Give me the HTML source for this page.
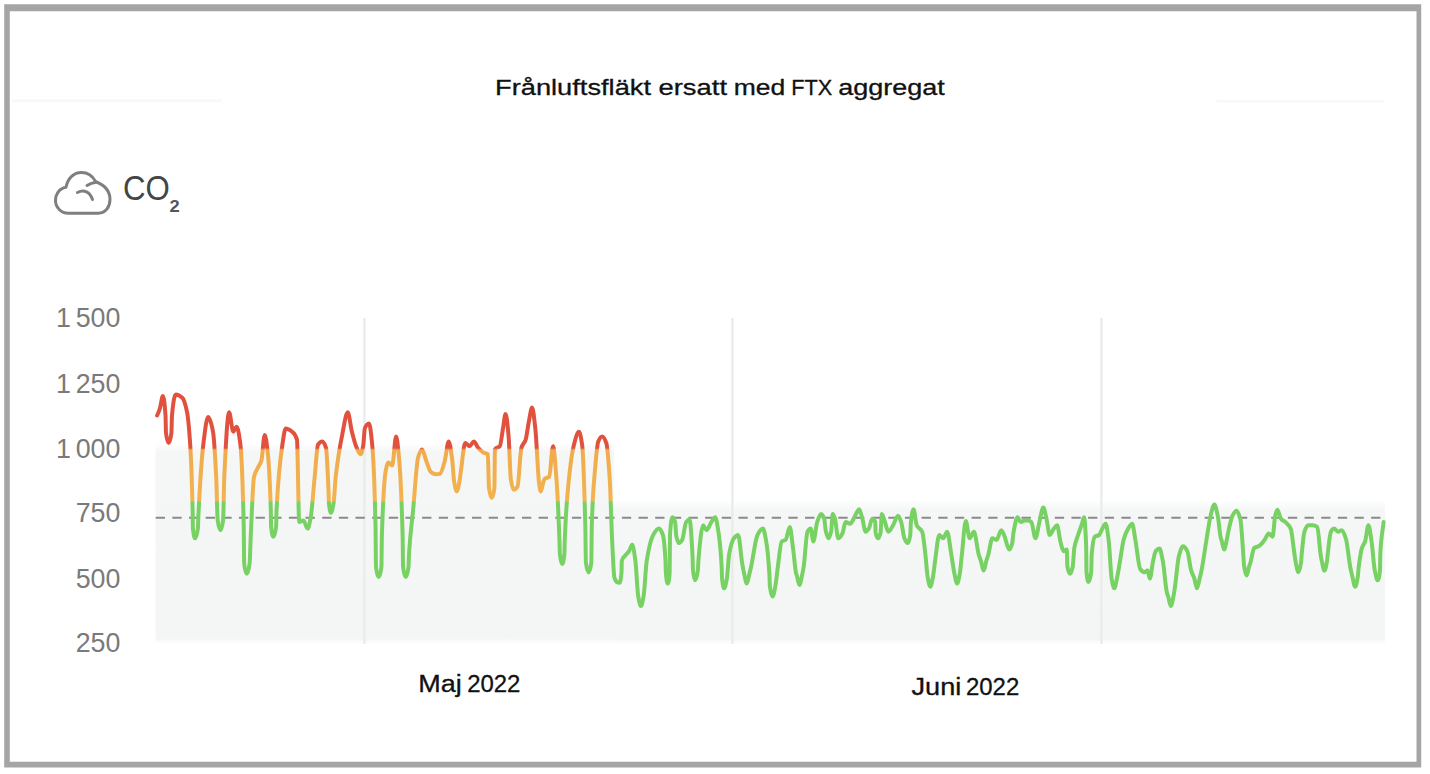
<!DOCTYPE html>
<html lang="sv">
<head>
<meta charset="utf-8">
<title>Frånluftsfläkt ersatt med FTX aggregat</title>
<style>
html,body{margin:0;padding:0;background:#fff;}
body{width:1430px;height:774px;overflow:hidden;position:relative;font-family:"Liberation Sans",sans-serif;}
svg{position:absolute;left:0;top:0;display:block;}
</style>
</head>
<body>
<svg width="1430" height="774" viewBox="0 0 1430 774" font-family="'Liberation Sans', sans-serif">
  <defs>
    <linearGradient id="lg" gradientUnits="userSpaceOnUse" x1="0" y1="0" x2="0" y2="774">
      <stop offset="0" stop-color="#e2513e"/>
      <stop offset="0.5788" stop-color="#e2513e"/>
      <stop offset="0.5814" stop-color="#f1ab4c"/>
      <stop offset="0.6466" stop-color="#f2b350"/>
      <stop offset="0.6492" stop-color="#78d163"/>
      <stop offset="1" stop-color="#78d163"/>
    </linearGradient>
    <linearGradient id="ga" gradientUnits="userSpaceOnUse" x1="0" y1="443" x2="0" y2="644.5">
      <stop offset="0" stop-color="#ffffff"/>
      <stop offset="0.045" stop-color="#f5f6f6"/>
      <stop offset="0.97" stop-color="#f4f6f5"/>
      <stop offset="1" stop-color="#ffffff"/>
    </linearGradient>
    <linearGradient id="gb" gradientUnits="userSpaceOnUse" x1="0" y1="500" x2="0" y2="644.5">
      <stop offset="0" stop-color="#ffffff"/>
      <stop offset="0.07" stop-color="#f5f6f6"/>
      <stop offset="0.96" stop-color="#f4f6f5"/>
      <stop offset="1" stop-color="#ffffff"/>
    </linearGradient>
  </defs>
  <rect x="0" y="0" width="1430" height="774" fill="#ffffff"/>
  <!-- outer frame -->
  <path fill="#a5a5a5" fill-rule="evenodd" d="M4.2 4.2H1421.2V767.6H4.2ZM9.8 11.3V761.8H1416.5V11.3Z"/>
  <!-- faint header rules -->
  <rect x="12" y="99.3" width="210" height="2.6" fill="#f8f8f8"/>
  <rect x="1216.5" y="100" width="167.5" height="2.6" fill="#f8f8f8"/>
  <!-- title -->
  <text y="95.4" font-size="21.5" fill="#111" stroke="#111" stroke-width="0.3" lengthAdjust="spacingAndGlyphs"><tspan x="495" textLength="156" lengthAdjust="spacingAndGlyphs">Frånluftsfläkt</tspan> <tspan x="658.5" textLength="68.5" lengthAdjust="spacingAndGlyphs">ersatt</tspan> <tspan x="733.7" textLength="51.5" lengthAdjust="spacingAndGlyphs">med</tspan> <tspan x="791.3" textLength="41" lengthAdjust="spacingAndGlyphs">FTX</tspan> <tspan x="838.2" textLength="106.5" lengthAdjust="spacingAndGlyphs">aggregat</tspan></text>
  <!-- cloud icon -->
  <g fill="none" stroke="#7f7f7f" stroke-width="3" stroke-linecap="round" stroke-linejoin="round">
    <path d="M68.4 213.2 H98.2 C106 213.2 110 206.5 110 199.3 C110 190 103 184.5 95.5 181.5 C92 175 86 172.6 81.5 172.6 C74 172.6 67.8 178 66 187.3 C58.5 188.6 55.5 195 55.5 200.3 C55.5 207.5 61 213.2 68.4 213.2 Z"/>
    <path d="M87 185.5 C90 183.5 93 182.5 96 182.2"/>
    <path d="M77.5 192.5 C84 189 90 192 92.5 199.5"/>
  </g>
  <!-- CO2 label -->
  <text x="122.9" y="199.9" font-size="34.6" fill="#454545" textLength="46.8" lengthAdjust="spacingAndGlyphs">CO</text>
  <text x="169.5" y="211.5" font-size="17.2" font-weight="bold" fill="#555" textLength="10.2" lengthAdjust="spacingAndGlyphs">2</text>
  <!-- plot area fill -->
  <rect x="155.5" y="443" width="458.5" height="201.5" fill="url(#ga)"/>
  <rect x="613.8" y="500" width="771.2" height="144.5" fill="url(#gb)"/>
  <!-- vertical grid -->
  <g stroke="#e9eaea" stroke-width="2.2">
    <line x1="364.4" y1="318" x2="364.4" y2="644"/>
    <line x1="732.4" y1="318" x2="732.4" y2="644"/>
    <line x1="1101.4" y1="318" x2="1101.4" y2="644"/>
  </g>
  <!-- threshold -->
  <line x1="155.7" y1="517.7" x2="1381" y2="517.7" stroke="#8a8a8a" stroke-width="2" stroke-dasharray="9.3 7.35"/>
  <!-- data line -->
  <path d="M157.1 415.5C158.0 413.4 158.8 411.7 159.7 409.1C160.8 405.9 161.8 396.1 162.9 396.1C163.8 396.1 164.6 403.0 165.5 415.5C165.7 417.9 165.8 431.6 166.0 433.0C166.9 440.4 167.8 443.0 168.7 443.0C169.6 443.0 170.5 440.1 171.4 433.0C171.6 431.4 171.8 417.7 172.0 415.5C173.3 401.4 174.5 394.5 175.8 394.5C178.0 394.5 180.1 395.8 182.3 397.8C183.9 399.2 185.5 404.5 187.1 412.3C188.2 417.7 189.3 430.2 190.4 447.8C191.1 459.5 191.9 479.8 192.6 509.2C192.7 513.9 192.8 527.1 192.9 528.3C193.7 536.1 194.4 538.3 195.2 538.3C196.1 538.3 197.0 535.3 197.9 528.3C198.1 527.0 198.2 519.0 198.4 515.7C200.0 483.2 201.7 458.0 203.3 444.6C204.9 431.5 206.5 417.1 208.1 417.1C209.7 417.1 211.4 423.3 213.0 431.7C214.1 437.2 215.1 455.8 216.2 476.9C216.7 486.8 217.2 516.7 217.7 520.2C218.6 526.6 219.5 530.2 220.4 530.2C221.3 530.2 222.2 527.0 223.1 520.2C223.5 517.2 223.9 485.5 224.3 476.9C225.9 442.4 227.5 412.3 229.1 412.3C230.5 412.3 231.9 431.7 233.3 431.7C234.4 431.7 235.5 426.8 236.6 426.8C237.9 426.8 239.1 434.5 240.4 444.6C241.5 453.4 242.6 478.5 243.7 525.3C243.9 532.4 244.0 562.3 244.2 563.8C245.1 571.8 246.0 573.8 246.9 573.8C247.8 573.8 248.7 570.2 249.6 563.8C250.0 561.0 250.4 543.4 250.8 535.0C251.9 512.5 252.9 481.4 254.0 476.9C255.4 471.0 256.8 470.2 258.2 467.2C259.3 464.9 260.3 464.1 261.4 460.7C262.5 457.2 263.6 434.9 264.7 434.9C265.8 434.9 266.8 444.4 267.9 454.3C268.9 463.3 269.8 479.1 270.8 509.2C270.9 512.8 271.0 525.5 271.1 526.7C271.9 534.4 272.6 536.7 273.4 536.7C274.3 536.7 275.2 534.1 276.1 526.7C276.3 525.3 276.4 512.5 276.6 509.2C278.5 471.0 280.5 457.3 282.4 444.6C283.5 437.4 284.6 428.4 285.7 428.4C287.8 428.4 290.0 430.0 292.1 431.7C293.7 433.0 295.4 433.9 297.0 439.8C297.7 442.4 298.5 522.1 299.2 522.1C300.6 522.1 302.0 520.5 303.4 520.5C304.8 520.5 306.2 528.6 307.6 528.6C308.6 528.6 309.5 523.6 310.5 518.9C311.9 512.1 313.3 490.7 314.7 476.9C315.8 466.0 316.9 446.2 318.0 444.6C319.4 442.6 320.8 441.4 322.2 441.4C323.5 441.4 324.7 443.7 326.0 447.8C326.9 450.6 327.7 473.2 328.6 493.0C328.7 495.7 328.8 501.6 328.9 502.8C329.6 509.5 330.2 512.8 330.9 512.8C331.8 512.8 332.7 508.0 333.6 502.8C334.3 498.7 335.0 483.2 335.7 476.9C337.9 457.5 340.0 445.7 342.2 434.9C344.0 425.7 345.9 412.3 347.7 412.3C349.1 412.3 350.5 426.2 351.9 431.7C353.5 437.9 355.1 444.3 356.7 447.8C358.0 450.7 359.3 454.3 360.6 454.3C361.5 454.3 362.4 450.0 363.3 445.1C363.8 442.4 364.3 429.6 364.8 428.4C366.2 425.1 367.6 423.6 369.0 423.6C370.1 423.6 371.1 433.6 372.2 444.6C373.3 455.9 374.4 477.2 375.5 525.3C375.7 532.6 375.8 565.5 376.0 567.0C376.9 575.1 377.8 577.0 378.7 577.0C379.6 577.0 380.5 574.9 381.4 567.0C381.6 565.5 381.7 540.2 381.9 535.0C383.2 494.7 384.5 476.9 385.8 470.4C386.7 466.1 387.5 462.4 388.4 462.4C389.7 462.4 390.9 465.6 392.2 465.6C393.5 465.6 394.8 436.5 396.1 436.5C397.0 436.5 397.8 445.7 398.7 454.3C400.0 467.2 401.3 488.2 402.6 535.0C402.8 541.0 402.9 565.5 403.1 567.0C404.0 574.9 404.9 577.0 405.8 577.0C406.7 577.0 407.6 574.0 408.5 567.0C408.7 565.7 408.8 557.2 409.0 554.4C410.4 530.8 411.8 524.1 413.2 509.2C414.8 491.8 416.5 463.0 418.1 457.5C419.4 453.1 420.7 449.4 422.0 449.4C423.4 449.4 424.8 457.2 426.2 460.7C427.8 464.7 429.4 470.9 431.0 472.1C432.6 473.3 434.3 474.3 435.9 474.3C437.3 474.3 438.6 474.1 440.0 473.7C441.6 473.3 443.2 466.4 444.8 460.7C446.1 456.1 447.4 441.4 448.7 441.4C449.9 441.4 451.1 451.6 452.3 460.7C452.9 465.3 453.5 477.9 454.1 481.4C455.0 486.6 455.9 491.4 456.8 491.4C457.7 491.4 458.6 486.0 459.5 481.4C460.0 478.9 460.5 473.9 461.0 470.4C462.4 460.6 463.8 443.0 465.2 443.0C466.7 443.0 468.2 446.2 469.7 446.2C471.1 446.2 472.5 441.4 473.9 441.4C475.3 441.4 476.7 446.2 478.1 447.8C479.9 449.9 481.8 451.7 483.6 452.7C485.0 453.4 486.4 453.0 487.8 454.3C488.2 454.7 488.6 485.0 489.0 487.9C489.9 494.4 490.8 497.9 491.7 497.9C492.6 497.9 493.5 495.9 494.4 487.9C494.6 486.4 494.7 449.7 494.9 449.4C496.5 446.5 498.2 448.2 499.8 446.2C500.9 444.9 501.9 434.3 503.0 428.4C503.9 423.6 504.7 413.9 505.6 413.9C506.6 413.9 507.5 424.7 508.5 434.9C509.3 443.4 510.1 474.8 510.9 479.8C511.8 485.4 512.7 489.8 513.6 489.8C514.9 489.8 516.2 488.6 517.5 486.6C518.8 484.6 520.1 452.0 521.4 447.8C522.8 443.3 524.2 443.9 525.6 439.8C526.7 436.7 527.7 427.2 528.8 422.0C529.9 416.6 531.0 407.5 532.1 407.5C533.2 407.5 534.2 418.7 535.3 428.4C536.4 438.1 537.4 462.4 538.5 476.9C538.6 478.5 538.7 480.4 538.9 481.4C539.5 486.7 540.1 491.4 540.8 491.4C541.7 491.4 542.6 483.6 543.5 481.4C544.0 480.2 544.5 478.9 545.0 478.5C546.4 477.5 547.8 477.9 549.2 476.9C550.5 476.0 551.7 446.2 553.0 446.2C554.1 446.2 555.2 462.9 556.3 476.9C557.4 490.5 558.4 511.7 559.5 541.5C559.6 544.8 559.7 553.0 559.9 554.1C560.6 561.4 561.4 564.1 562.1 564.1C562.9 564.1 563.6 561.4 564.4 554.1C564.5 553.0 564.6 544.4 564.7 541.5C565.7 517.1 566.6 503.6 567.6 493.0C569.7 469.7 571.9 452.8 574.0 444.6C575.6 438.4 577.3 431.7 578.9 431.7C580.0 431.7 581.0 437.2 582.1 444.6C583.2 452.0 584.2 483.1 585.3 525.3C585.5 533.2 585.7 560.5 585.9 562.2C586.8 569.9 587.7 572.2 588.6 572.2C589.5 572.2 590.4 570.2 591.3 562.2C591.5 560.7 591.6 531.0 591.8 525.3C592.7 495.5 593.5 487.7 594.4 476.9C595.7 460.6 597.0 444.3 598.3 441.4C599.6 438.5 600.8 436.5 602.1 436.5C603.5 436.5 604.9 439.1 606.3 443.0C607.4 446.0 608.5 460.6 609.6 476.9C610.5 489.7 611.3 524.4 612.2 541.5C612.9 555.9 613.7 575.4 614.4 577.7C615.3 580.5 616.1 581.8 617.0 582.2C617.9 582.6 618.7 582.8 619.6 582.8C620.2 582.8 620.8 579.7 621.5 572.8C621.6 571.5 621.7 561.4 621.8 560.9C622.8 556.8 623.8 557.4 624.8 556.0C626.2 554.1 627.6 553.3 629.0 551.2C630.1 549.6 631.1 544.7 632.2 544.7C633.3 544.7 634.3 553.1 635.4 560.9C636.3 567.7 637.3 590.8 638.2 596.1C639.1 601.2 640.0 606.1 640.9 606.1C641.8 606.1 642.7 601.1 643.6 596.1C644.6 590.4 645.7 567.4 646.7 560.9C648.9 547.3 651.0 538.7 653.2 535.0C655.1 531.7 657.1 528.6 659.0 528.6C660.3 528.6 661.6 531.2 662.9 535.0C663.8 537.6 664.6 545.1 665.5 560.9C665.6 563.0 665.7 572.2 665.9 573.5C666.5 580.5 667.1 583.5 667.7 583.5C668.4 583.5 669.0 581.6 669.6 573.5C669.8 572.1 669.9 536.9 670.0 535.0C670.9 520.7 671.7 517.3 672.6 517.3C673.4 517.3 674.3 519.1 675.1 522.1C675.5 523.5 675.9 534.1 676.3 536.0C677.2 540.2 678.1 543.1 679.0 543.1C680.1 543.1 681.1 541.6 682.2 539.9C683.5 537.8 684.8 523.8 686.1 522.1C687.2 520.7 688.3 519.5 689.4 519.5C690.5 519.5 691.5 535.5 692.6 557.6C692.7 560.0 692.8 569.2 693.0 570.3C693.7 577.6 694.5 580.3 695.2 580.3C696.1 580.3 697.0 576.9 697.9 570.3C698.1 569.1 698.2 562.9 698.4 560.9C700.0 541.6 701.6 525.3 703.2 525.3C704.3 525.3 705.4 530.2 706.5 530.2C708.1 530.2 709.7 524.4 711.3 522.1C712.6 520.3 713.9 517.3 715.2 517.3C716.3 517.3 717.3 525.0 718.4 531.8C719.5 538.8 720.6 547.0 721.7 567.3C721.8 569.5 721.9 577.1 722.0 578.3C722.8 585.4 723.5 588.3 724.2 588.3C725.1 588.3 726.0 583.4 726.9 578.3C727.6 574.2 728.4 558.4 729.1 554.4C730.7 545.6 732.3 540.3 733.9 538.3C735.3 536.5 736.7 535.0 738.1 535.0C739.5 535.0 740.9 555.9 742.3 564.1C742.9 567.6 743.5 570.9 744.1 573.5C745.0 577.4 745.9 583.5 746.8 583.5C747.7 583.5 748.6 577.0 749.5 573.5C750.0 571.5 750.5 569.5 751.0 567.3C753.2 557.7 755.3 539.1 757.5 535.0C759.3 531.6 761.1 528.6 762.9 528.6C764.0 528.6 765.1 535.3 766.2 541.5C767.3 547.5 768.3 556.6 769.4 573.8C769.6 576.5 769.7 585.1 769.9 586.4C770.8 593.4 771.7 596.4 772.6 596.4C773.5 596.4 774.4 590.9 775.3 586.4C776.1 582.2 777.0 573.2 777.8 567.3C779.1 558.0 780.4 542.5 781.7 541.5C783.0 540.5 784.3 540.8 785.6 539.9C787.0 538.9 788.4 527.0 789.8 527.0C790.9 527.0 791.9 540.3 793.0 548.0C794.1 555.7 795.1 570.1 796.2 573.8C796.4 574.4 796.5 574.6 796.7 575.1C797.6 577.7 798.5 585.1 799.4 585.1C800.3 585.1 801.2 579.1 802.1 575.1C802.6 572.9 803.1 570.5 803.6 567.3C804.9 559.0 806.2 534.1 807.5 531.8C808.6 529.9 809.6 528.6 810.7 528.6C811.6 528.6 812.4 541.5 813.3 541.5C814.6 541.5 815.9 525.9 817.2 522.1C818.5 518.3 819.8 514.0 821.1 514.0C822.2 514.0 823.2 515.9 824.3 518.9C824.8 520.3 825.3 528.9 825.8 531.0C826.7 534.8 827.6 538.3 828.5 538.3C829.4 538.3 830.3 535.2 831.2 531.0C831.7 528.7 832.2 514.0 832.7 514.0C833.5 514.0 834.2 516.5 835.0 518.9C836.1 522.2 837.1 538.3 838.2 538.3C839.6 538.3 841.0 535.9 842.4 533.4C843.5 531.5 844.5 522.1 845.6 522.1C847.1 522.1 848.7 523.7 850.2 523.7C851.6 523.7 853.0 519.5 854.4 517.3C856.0 514.7 857.6 509.2 859.2 509.2C860.3 509.2 861.3 515.3 862.4 518.9C863.5 522.7 864.6 531.8 865.7 531.8C866.8 531.8 867.8 530.2 868.9 528.6C870.0 527.0 871.0 518.9 872.1 518.9C873.2 518.9 874.2 519.3 875.3 522.1C875.4 522.4 875.5 531.8 875.6 532.5C876.4 537.0 877.1 538.3 877.9 538.3C878.8 538.3 879.7 536.3 880.6 532.5C881.0 530.8 881.4 514.0 881.8 514.0C882.9 514.0 883.9 519.2 885.0 522.1C886.1 525.1 887.2 531.8 888.3 531.8C889.9 531.8 891.5 527.9 893.1 525.3C894.7 522.7 896.4 515.7 898.0 515.7C899.1 515.7 900.1 519.0 901.2 522.1C902.3 525.2 903.3 535.8 904.4 538.3C905.5 540.8 906.5 543.1 907.6 543.1C908.5 543.1 909.4 540.6 910.3 534.9C910.5 533.6 910.7 524.0 910.9 522.1C911.8 514.1 912.6 509.2 913.5 509.2C914.6 509.2 915.6 523.1 916.7 525.3C918.5 529.0 920.4 527.8 922.2 531.8C923.3 534.1 924.3 545.4 925.4 554.4C926.1 560.6 926.9 572.7 927.6 576.7C928.5 581.7 929.4 586.7 930.3 586.7C931.2 586.7 932.1 581.2 933.0 576.7C933.7 573.2 934.4 565.7 935.1 560.9C936.5 551.3 937.9 535.0 939.3 535.0C940.6 535.0 941.9 538.3 943.2 538.3C944.5 538.3 945.8 531.8 947.1 531.8C948.5 531.8 949.9 546.3 951.3 554.4C952.3 560.4 953.4 568.7 954.4 573.5C955.3 577.6 956.2 583.5 957.1 583.5C958.0 583.5 958.9 578.3 959.8 573.5C960.5 569.7 961.2 560.6 961.9 554.4C963.2 542.9 964.5 521.1 965.8 521.1C967.1 521.1 968.4 538.3 969.7 538.3C971.1 538.3 972.5 531.8 973.9 531.8C975.5 531.8 977.1 548.8 978.7 554.4C979.4 557.0 980.2 558.5 980.9 560.9C981.8 563.8 982.7 570.6 983.6 570.6C984.5 570.6 985.4 563.9 986.3 560.9C987.0 558.6 987.7 556.8 988.4 554.4C989.7 549.9 991.0 538.3 992.3 538.3C993.7 538.3 995.1 539.9 996.5 539.9C998.1 539.9 999.7 530.2 1001.3 530.2C1002.6 530.2 1003.9 534.7 1005.2 538.3C1005.7 539.7 1006.2 542.4 1006.7 543.8C1007.6 546.3 1008.5 549.6 1009.4 549.6C1010.3 549.6 1011.2 547.0 1012.1 543.8C1012.6 542.0 1013.1 534.5 1013.6 531.8C1014.9 524.8 1016.2 517.3 1017.5 517.3C1018.6 517.3 1019.6 522.1 1020.7 522.1C1022.0 522.1 1023.3 520.5 1024.6 520.5C1025.8 520.5 1026.9 520.5 1028.1 520.5C1029.2 520.5 1030.2 521.2 1031.3 522.1C1032.7 523.3 1034.1 538.3 1035.5 538.3C1036.8 538.3 1038.1 527.2 1039.4 522.1C1040.7 517.0 1042.0 507.6 1043.3 507.6C1044.4 507.6 1045.4 514.5 1046.5 518.9C1047.6 523.3 1048.6 535.0 1049.7 535.0C1051.1 535.0 1052.5 530.3 1053.9 528.6C1055.0 527.3 1056.0 525.3 1057.1 525.3C1058.2 525.3 1059.3 537.4 1060.4 541.5C1061.5 545.5 1062.5 551.2 1063.6 551.2C1064.7 551.2 1065.7 549.6 1066.8 549.6C1067.0 549.6 1067.2 565.3 1067.4 566.5C1068.3 571.9 1069.2 573.8 1070.1 573.8C1071.0 573.8 1071.9 570.8 1072.8 566.5C1073.3 564.1 1073.8 550.9 1074.3 548.0C1075.6 540.6 1076.8 539.0 1078.1 535.0C1079.4 530.9 1080.7 527.7 1082.0 523.7C1082.7 521.7 1083.3 517.3 1084.0 517.3C1084.7 517.3 1085.5 527.8 1086.2 548.0C1086.3 551.2 1086.4 570.5 1086.5 571.9C1087.2 579.6 1087.8 581.9 1088.5 581.9C1089.4 581.9 1090.3 579.3 1091.2 571.9C1091.4 570.5 1091.5 556.3 1091.7 554.4C1092.8 542.0 1093.8 537.5 1094.9 536.7C1096.3 535.6 1097.7 536.0 1099.1 535.0C1100.2 534.2 1101.3 530.5 1102.4 528.6C1103.5 526.8 1104.5 523.7 1105.6 523.7C1106.7 523.7 1107.7 533.1 1108.8 541.5C1109.7 548.9 1110.7 572.9 1111.6 578.3C1112.5 583.5 1113.4 588.3 1114.3 588.3C1115.2 588.3 1116.1 582.3 1117.0 578.3C1117.8 574.6 1118.7 568.9 1119.5 564.1C1121.0 555.5 1122.5 543.2 1124.0 538.3C1125.4 533.7 1126.8 530.9 1128.2 528.6C1129.5 526.5 1130.8 523.7 1132.1 523.7C1133.3 523.7 1134.4 535.1 1135.6 541.5C1137.1 549.9 1138.7 567.0 1140.2 569.0C1141.6 570.9 1143.0 572.2 1144.4 572.2C1145.5 572.2 1146.5 570.6 1147.6 570.6C1148.3 570.6 1149.1 578.6 1149.8 578.6C1150.9 578.6 1152.0 565.7 1153.1 560.9C1154.0 557.1 1154.8 552.2 1155.7 551.2C1157.0 549.7 1158.2 548.6 1159.5 548.6C1160.6 548.6 1161.7 555.5 1162.8 560.9C1164.2 567.8 1165.6 588.2 1167.0 593.2C1167.4 594.5 1167.7 595.0 1168.1 596.1C1169.0 598.8 1169.9 606.1 1170.8 606.1C1171.7 606.1 1172.6 600.4 1173.5 596.1C1174.0 593.7 1174.5 590.1 1175.0 586.7C1176.3 577.8 1177.6 560.7 1178.9 556.0C1180.3 551.0 1181.7 546.3 1183.1 546.3C1184.5 546.3 1185.9 548.5 1187.3 551.2C1188.6 553.7 1189.9 566.3 1191.2 570.6C1192.2 574.0 1193.3 575.2 1194.3 578.3C1195.2 581.0 1196.1 588.3 1197.0 588.3C1197.9 588.3 1198.8 581.9 1199.7 578.3C1200.3 575.9 1200.9 573.6 1201.5 570.6C1203.2 562.1 1205.0 548.7 1206.7 538.3C1208.0 530.5 1209.3 520.8 1210.6 515.7C1211.9 510.7 1213.1 504.4 1214.4 504.4C1215.5 504.4 1216.6 510.6 1217.7 515.7C1218.8 520.6 1219.8 534.7 1220.9 538.3C1221.1 538.9 1221.2 539.1 1221.4 539.6C1222.3 542.2 1223.2 549.6 1224.1 549.6C1225.0 549.6 1225.9 543.6 1226.8 539.6C1227.3 537.4 1227.8 534.1 1228.3 531.8C1229.7 525.5 1231.1 518.3 1232.5 515.7C1233.8 513.3 1235.1 510.8 1236.4 510.8C1237.7 510.8 1239.0 514.2 1240.3 518.9C1241.4 522.8 1242.4 542.6 1243.5 557.6C1243.7 559.9 1243.8 564.2 1244.0 565.4C1244.9 571.7 1245.8 575.4 1246.7 575.4C1247.6 575.4 1248.5 567.7 1249.4 565.4C1249.6 564.9 1249.8 564.6 1250.0 564.1C1251.4 560.5 1252.8 549.0 1254.2 548.0C1255.6 547.0 1257.0 547.1 1258.4 546.3C1259.7 545.6 1260.9 544.5 1262.2 543.1C1263.3 541.9 1264.4 539.9 1265.5 538.3C1266.6 536.7 1267.6 533.4 1268.7 533.4C1270.0 533.4 1271.3 536.7 1272.6 536.7C1273.5 536.7 1274.3 519.1 1275.2 515.7C1275.9 512.8 1276.7 509.8 1277.4 509.8C1278.6 509.8 1279.8 517.5 1281.0 518.9C1282.5 520.6 1284.0 520.7 1285.5 522.1C1287.2 523.7 1289.0 524.8 1290.7 528.6C1292.0 531.4 1293.2 546.0 1294.5 554.4C1294.9 557.0 1295.3 560.2 1295.7 562.2C1296.6 566.6 1297.5 572.2 1298.4 572.2C1299.3 572.2 1300.2 568.1 1301.1 562.2C1301.3 560.9 1301.5 556.5 1301.7 554.4C1302.6 544.8 1303.5 534.4 1304.4 531.8C1305.7 528.0 1307.0 525.3 1308.3 525.3C1309.7 525.3 1311.1 525.3 1312.5 525.3C1314.1 525.3 1315.7 525.8 1317.3 527.0C1318.4 527.8 1319.5 547.2 1320.6 554.4C1321.0 556.8 1321.3 558.9 1321.7 560.6C1322.6 564.7 1323.5 570.6 1324.4 570.6C1325.3 570.6 1326.2 566.1 1327.1 560.6C1327.3 559.4 1327.5 556.2 1327.7 554.4C1328.8 545.0 1329.8 533.7 1330.9 531.8C1332.0 529.9 1333.0 528.6 1334.1 528.6C1335.5 528.6 1336.9 531.8 1338.3 531.8C1339.4 531.8 1340.5 530.2 1341.6 530.2C1343.0 530.2 1344.4 534.2 1345.8 538.3C1347.3 542.7 1348.8 559.5 1350.3 567.3C1351.0 570.9 1351.7 573.9 1352.4 576.7C1353.3 580.4 1354.2 586.7 1355.1 586.7C1356.0 586.7 1356.9 582.0 1357.8 576.7C1358.1 574.9 1358.4 569.7 1358.7 567.3C1359.8 558.7 1360.8 551.2 1361.9 548.0C1363.0 544.8 1364.0 544.6 1365.1 541.5C1366.2 538.3 1367.3 525.3 1368.4 525.3C1369.5 525.3 1370.5 534.6 1371.6 541.5C1372.7 548.4 1373.7 565.4 1374.8 570.6C1375.8 575.3 1376.7 580.3 1377.7 580.3C1378.5 580.3 1379.2 577.9 1380.0 570.3C1380.1 569.1 1380.2 556.7 1380.3 554.4C1381.4 533.0 1382.5 532.9 1383.6 522.1" fill="none" stroke="url(#lg)" stroke-width="4" stroke-linejoin="round" stroke-linecap="round"/>
  <!-- y axis labels -->
  <g font-size="26.8" fill="#7a7a7a" text-anchor="end" word-spacing="-2.6">
    <text x="120.4" y="326.7">1 500</text>
    <text x="120.4" y="393.3">1 250</text>
    <text x="120.4" y="457.8">1 000</text>
    <text x="120.4" y="521.8">750</text>
    <text x="120.4" y="588">500</text>
    <text x="120.4" y="652.3">250</text>
  </g>
  <!-- x axis labels -->
  <text y="691.9" font-size="23" fill="#111" stroke="#111" stroke-width="0.3"><tspan x="418.3" textLength="43.5" lengthAdjust="spacingAndGlyphs">Maj</tspan> <tspan x="467.2" textLength="53.2" lengthAdjust="spacingAndGlyphs">2022</tspan></text>
  <text y="694.8" font-size="23" fill="#111" stroke="#111" stroke-width="0.3"><tspan x="911.5" textLength="49.8" lengthAdjust="spacingAndGlyphs">Juni</tspan> <tspan x="966" textLength="53.2" lengthAdjust="spacingAndGlyphs">2022</tspan></text>
</svg>
</body>
</html>
